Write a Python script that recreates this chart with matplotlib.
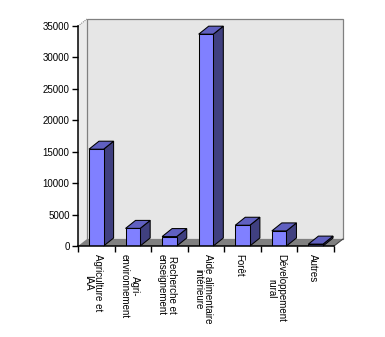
import matplotlib
matplotlib.use("Agg")
import matplotlib.pyplot as plt
from matplotlib.patches import Polygon, Rectangle

categories = ["Agriculture et\nIAA", "Agri-\nenvironnement", "Recherche et\nenseignement",
              "Aide alimentaire\nintérieure", "Forêt", "Développement\nrural", "Autres"]
values = [15400, 2800, 1500, 33700, 3300, 2400, 300]
yticks = [0, 5000, 10000, 15000, 20000, 25000, 30000, 35000]

plt.rcParams['font.family'] = ['Liberation Sans', 'DejaVu Sans']

W, H = 385, 337
fig = plt.figure(figsize=(W / 100, H / 100), dpi=100)
ax = fig.add_axes([78 / W, (H - 246) / H, 256 / W, 220 / H])
n = len(categories)
ymax = 35000
ax.set_xlim(0, n)
ax.set_ylim(0, ymax)

axw_px, axh_px = 256, 220
def off(px, py):
    return px * n / axw_px, py * ymax / axh_px

wdx, wdy = off(9, 7)
bdx, bdy = off(10, 8)

wall_c = '#e6e6e6'
# left wall
ax.add_patch(Polygon([(0, 0), (0, ymax), (wdx, ymax + wdy), (wdx, wdy)],
                     closed=True, facecolor='#ebebeb', edgecolor='none', clip_on=False, zorder=0))
ax.plot([0, wdx], [ymax, ymax + wdy], color='#808080', lw=0.75, ls=(0, (1, 1)), clip_on=False, zorder=1)
# back wall
ax.add_patch(Rectangle((wdx, wdy), n, ymax, facecolor=wall_c, edgecolor='#808080',
                       lw=0.9, clip_on=False, zorder=0.5))
# floor
ax.add_patch(Polygon([(0, 0), (n, 0), (n + wdx, wdy), (wdx, wdy)], closed=True,
                     facecolor='#808080', edgecolor='none', clip_on=False, zorder=1))
ax.plot([n, n + wdx], [0, wdy], color='#404040', lw=0.75, clip_on=False, zorder=1.1)

x = [i + 0.5 for i in range(n)]
w = 0.4
front_c, side_c, top_c = '#8080ff', '#404080', '#6060c0'
for xi, v in zip(x, values):
    r = xi + w / 2
    l = xi - w / 2
    ax.add_patch(Polygon([(r, 0), (r, v), (r + bdx, v + bdy), (r + bdx, bdy)], closed=True,
                         facecolor=side_c, edgecolor='black', lw=0.75, clip_on=False, zorder=2))
    ax.add_patch(Polygon([(l, v), (r, v), (r + bdx, v + bdy), (l + bdx, v + bdy)], closed=True,
                         facecolor=top_c, edgecolor='black', lw=0.75, clip_on=False, zorder=2))
ax.bar(x, values, width=w, color=front_c, edgecolor='black', lw=0.75, zorder=3)

ax.patch.set_visible(False)
for s in ['top', 'right']:
    ax.spines[s].set_visible(False)
for s in ['left', 'bottom']:
    ax.spines[s].set_color('black')
    ax.spines[s].set_linewidth(1.1)
    ax.spines[s].set_zorder(4)

ax.set_yticks(yticks)
ax.set_yticklabels([str(t) for t in yticks], fontsize=7)
ax.tick_params(axis='y', length=4, width=1, pad=2)
ax.set_xticks(range(n + 1))
ax.set_xticklabels([])
ax.tick_params(axis='x', length=4, width=1)
ax.set_xticks([xi - 0.08 for xi in x], minor=True)
ax.set_xticklabels(categories, minor=True, rotation=270, fontsize=7,
                   ha='center', va='top', multialignment='center', linespacing=1.0)
ax.tick_params(axis='x', which='minor', length=0, pad=6)

fig.savefig('out.png', dpi=100)
